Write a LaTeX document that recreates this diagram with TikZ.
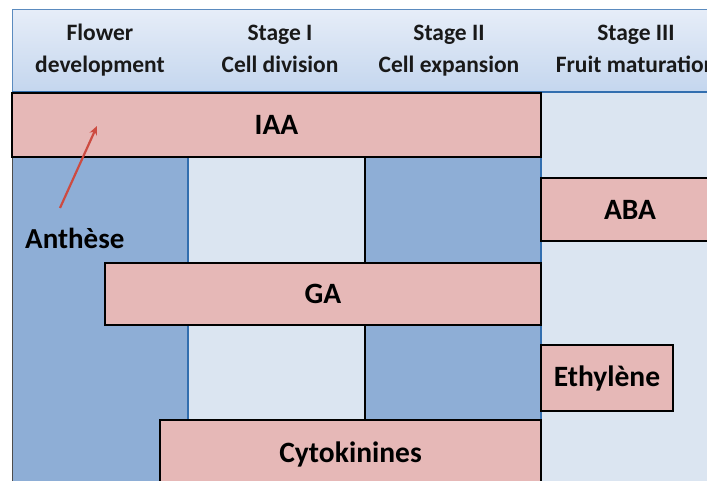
\documentclass[tikz,border=0pt]{standalone}
\usepackage{fontspec}
\setmainfont{Carlito}
\usetikzlibrary{arrows.meta}
\definecolor{darkcol}{RGB}{142,174,214}
\definecolor{lightcol}{RGB}{219,229,241}
\definecolor{barpink}{RGB}{230,184,183}
\definecolor{headtop}{RGB}{230,237,248}
\definecolor{headbot}{RGB}{196,214,238}
\definecolor{edgeblue}{RGB}{50,110,175}
\definecolor{arrowred}{RGB}{205,75,65}
\tikzset{
  bar/.style={draw=black, line width=2.6pt, fill=barpink, inner sep=0pt,
    font=\bfseries\fontsize{29.5}{31}\selectfont},
  headtext/.style={align=center, text=black!90, inner sep=0pt,
    font=\bfseries\fontsize{23.5}{32}\selectfont},
  sidelabel/.style={inner sep=0pt, font=\bfseries\fontsize{29}{30}\selectfont}
}
\begin{document}
\begin{tikzpicture}[x=1pt,y=-1pt]
\useasboundingbox (0,0) rectangle (707,481);
\fill[white] (0,0) rectangle (707,481);
\begin{scope}
\clip (0,0) rectangle (707,481);
% column backgrounds
\fill[darkcol] (12,92) rectangle (188,490);
\fill[lightcol] (188,92) rectangle (365,490);
\fill[darkcol] (365,92) rectangle (541,490);
\fill[lightcol] (541,92) rectangle (720,490);
\draw[edgeblue, line width=1.3pt] (188,92) -- (188,490);
\draw[black, line width=1.8pt] (365,92) -- (365,490);
\draw[edgeblue, line width=1.3pt] (541,92) -- (541,490);
\draw[black!70, line width=0.8pt] (12,92) -- (12,490);
% header band
\shade[top color=headtop, bottom color=headbot] (12,10) rectangle (720,92);
\draw[edgeblue!80, line width=1pt] (720,10) -- (12,10) -- (12,92);
\draw[edgeblue, line width=1.6pt] (12,92) -- (720,92);
\node[headtext] (h1) at (100,50.6) {\strut Flower\\\strut development};
\node[headtext] (h2) at (280,50.6) {\strut Stage I\\\strut Cell division};
\node[headtext] (h3) at (449,50.6) {\strut Stage II\\\strut Cell expansion};
\node[headtext] (h4) at (636,50.6) {\strut Stage III\\\strut Fruit maturation};
% hormone bars
\node[bar, minimum width=529pt, minimum height=64pt] (iaa) at (276.5,125) {IAA};
\node[bar, minimum width=178pt, minimum height=63pt] (aba) at (630,209.5) {ABA};
\node[bar, minimum width=436pt, minimum height=62pt] (ga) at (323,294) {GA};
\node[bar, minimum width=132pt, minimum height=66pt] (eth) at (607,378) {Ethylène};
\node[bar, minimum width=381pt, minimum height=68pt] (cyto) at (350.5,454) {Cytokinines};
% anthesis label and arrow
\node[sidelabel, anchor=base west] (anth) at (25,248) {Anthèse};
\coordinate (atail) at (60,208);
\coordinate (ahead) at (97,126);
\draw[arrowred, line width=2.2pt, -{Stealth[length=9pt,width=8pt]}] (atail) -- (ahead);
\end{scope}
\end{tikzpicture}
\end{document}
